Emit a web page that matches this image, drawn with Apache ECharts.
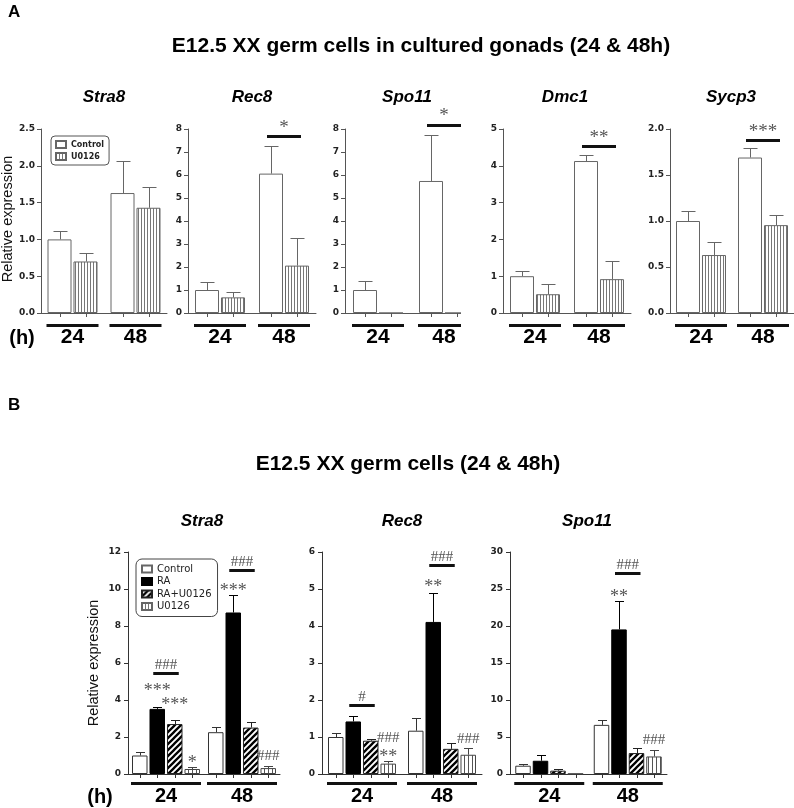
<!DOCTYPE html>
<html><head><meta charset="utf-8">
<script src="https://cdn.jsdelivr.net/npm/echarts@6/dist/echarts.min.js"></script>
<style>html,body{margin:0;padding:0;background:#fff}#c{width:794px;height:808px}</style>
</head><body><div id="c"></div>
<script>
// ================= DATA =================
const groups = ['24', '48'];

// Panel A: E12.5 XX germ cells in cultured gonads — Control vs U0126
const aGenes = ['Stra8', 'Rec8', 'Spo11', 'Dmc1', 'Sycp3'];
const aYMax = [2.5, 8, 8, 5, 2.0];
const aYInterval = [0.5, 1, 1, 1, 0.5];
const aDecimals = [1, 0, 0, 0, 1];
const aControl    = [[1.00, 1.63], [1.00, 6.06], [1.00, 5.74], [1.00, 4.13], [1.00, 1.69]];
const aControlErr = [[0.11, 0.435], [0.34, 1.19], [0.37, 2.01], [0.15, 0.17], [0.11, 0.10]];
const aU0126      = [[0.70, 1.43], [0.68, 2.06], [0, 0], [0.51, 0.92], [0.63, 0.955]];
const aU0126Err   = [[0.115, 0.28], [0.25, 1.18], [0, 0], [0.29, 0.48], [0.14, 0.115]];
// significance (between Control and U0126 of a group): y = level of the bar
const aSig = [
  [],
  [{ group: 1, from: 0, to: 1, y: 7.7, text: '*' }],
  [{ group: 1, from: 0, to: 1, y: 8.19, text: '*' }],
  [{ group: 1, from: 0, to: 1, y: 4.53, text: '**' }],
  [{ group: 1, from: 0, to: 1, y: 1.88, text: '***' }]
];

// Panel B: E12.5 XX germ cells — Control, RA, RA+U0126, U0126
const bGenes = ['Stra8', 'Rec8', 'Spo11'];
const bYMax = [12, 6, 30];
const bYInterval = [2, 1, 5];
const bControl    = [[1.00, 2.26], [1.00, 1.17], [1.12, 6.64]];
const bControlErr = [[0.17, 0.27], [0.10, 0.35], [0.27, 0.68]];
const bRA         = [[3.52, 8.73], [1.42, 4.11], [1.79, 19.54]];
const bRAErr      = [[0.09, 0.92], [0.16, 0.79], [0.81, 3.82]];
const bRAU        = [[2.70, 2.51], [0.90, 0.68], [0.45, 2.83]];
const bRAUErr     = [[0.23, 0.29], [0.05, 0.17], [0.22, 0.62]];
const bU0126      = [[0.27, 0.32], [0.28, 0.52], [0.03, 2.37]];
const bU0126Err   = [[0.09, 0.13], [0.06, 0.18], [0.00, 0.90]];
const bAnn = [
  [ { group: 0, from: 1, to: 2, y: 5.44, text: '###' },
    { group: 1, from: 1, to: 2, y: 11.01, text: '###' },
    { group: 0, bar: 1, y: 4.67, text: '***' },
    { group: 0, bar: 2, y: 3.95, text: '***' },
    { group: 0, bar: 3, y: 0.81, text: '*' },
    { group: 1, bar: 1, y: 10.08, text: '***' },
    { group: 1, bar: 3, y: 0.95, text: '###' } ],
  [ { group: 0, from: 1, to: 2, y: 1.87, text: '#' },
    { group: 1, from: 1, to: 2, y: 5.64, text: '###' },
    { group: 0, bar: 3, y: 0.97, text: '###' },
    { group: 0, bar: 3, y: 0.55, text: '**' },
    { group: 1, bar: 1, y: 5.15, text: '**' },
    { group: 1, bar: 3, y: 0.94, text: '###' } ],
  [ { group: 1, from: 1, to: 2, y: 27.2, text: '###' },
    { group: 1, bar: 1, y: 24.4, text: '**' },
    { group: 1, bar: 3, y: 4.53, text: '###' } ]
];

// ================= STYLE / LAYOUT =================
const FONT = "'Liberation Sans', Arial, sans-serif";
const TICKFONT = "'DejaVu Sans', sans-serif";
const SERIF = "'Liberation Serif', 'Times New Roman', serif";

function makePattern(kind) {
  const c = document.createElement('canvas');
  const ctx = c.getContext('2d');
  if (kind === 'vertA' || kind === 'vertB') {
    const w = kind === 'vertA' ? 3 : 4;
    c.width = w; c.height = 4;
    ctx.fillStyle = '#fff'; ctx.fillRect(0, 0, w, 4);
    ctx.fillStyle = kind === 'vertA' ? '#777' : '#555';
    ctx.fillRect(0, 0, 1, 4);
  } else {
    c.width = 6; c.height = 6;
    ctx.fillStyle = '#fff'; ctx.fillRect(0, 0, 6, 6);
    ctx.strokeStyle = '#000'; ctx.lineWidth = 2.3;
    ctx.beginPath();
    ctx.moveTo(-1, 7); ctx.lineTo(7, -1);
    ctx.moveTo(-4, 4); ctx.lineTo(4, -4);
    ctx.moveTo(2, 10); ctx.lineTo(10, 2);
    ctx.stroke();
  }
  return { image: c, repeat: 'repeat' };
}
const patVertA = makePattern('vertA');
const patVertB = makePattern('vertB');
const patDiag = makePattern('diag');

const grids = [], xAxes = [], yAxes = [], series = [];

function addPanel(cfg) {
  const gi = grids.length;
  grids.push({ left: cfg.left, top: cfg.top, width: cfg.width, height: cfg.height });
  xAxes.push({
    type: 'category', gridIndex: gi, data: groups,
    axisLine: { lineStyle: { color: cfg.axisColor, width: 1 } },
    axisTick: { show: false },
    axisLabel: { margin: cfg.labelMargin, fontFamily: FONT, fontWeight: 'bold', fontSize: cfg.groupFont, color: '#000' },
    splitLine: { show: false }
  });
  yAxes.push({
    type: 'value', gridIndex: gi, min: 0, max: cfg.yMax, interval: cfg.yInterval,
    axisLine: { show: true, lineStyle: { color: cfg.axisColor } },
    axisTick: { show: true, length: 4, lineStyle: { color: cfg.axisColor } },
    axisLabel: {
      margin: cfg.yLabelMargin, fontFamily: TICKFONT, fontWeight: 'bold', fontSize: 9, color: '#222',
      formatter: v => cfg.decimals ? v.toFixed(cfg.decimals) : String(v)
    },
    splitLine: { show: false }
  });
  const n = cfg.bars.length;
  const step = cfg.bw + cfg.gapPx;
  const offset = i => (i - (n - 1) / 2) * step;
  cfg.bars.forEach(b => {
    series.push({
      type: 'bar', name: b.name, xAxisIndex: gi, yAxisIndex: gi, data: b.vals,
      barWidth: cfg.bw, barGap: (cfg.gapPx / cfg.bw * 100).toFixed(2) + '%',
      itemStyle: { color: b.color, borderColor: b.border, borderWidth: 1 },
      emphasis: { disabled: true }, silent: true
    });
  });
  cfg.bars.forEach((b, i) => {
    series.push({
      type: 'custom', name: 'err', xAxisIndex: gi, yAxisIndex: gi, silent: true, clip: false, z: 3,
      data: groups.map((g, ci) => [ci, b.vals[ci], b.vals[ci] + b.errs[ci]]),
      renderItem: (params, api) => {
        const v = api.value(1), t = api.value(2);
        if (!(t - v > 0)) return null;
        const base = api.coord([api.value(0), v]);
        const top = api.coord([api.value(0), t]);
        const x = Math.round(base[0] + offset(i)) + 0.5;
        const yt = Math.round(top[1]) + 0.5;
        return { type: 'group', children: [
          { type: 'line', shape: { x1: x, y1: base[1], x2: x, y2: yt }, style: { stroke: b.errColor, lineWidth: 1 } },
          { type: 'line', shape: { x1: x - cfg.capW / 2, y1: yt, x2: x + cfg.capW / 2, y2: yt }, style: { stroke: b.errColor, lineWidth: 1 } }
        ] };
      }
    });
  });
  // ticks under each bar and the group underline
  series.push({
    type: 'custom', name: 'decor', xAxisIndex: gi, yAxisIndex: gi, silent: true, clip: false, z: 3,
    data: groups.map((g, ci) => [ci, 0]),
    renderItem: (params, api) => {
      const p = api.coord([api.value(0), 0]);
      const children = [];
      for (let i = 0; i < n; i++) {
        const x = Math.round(p[0] + offset(i)) + 0.5;
        children.push({ type: 'line', shape: { x1: x, y1: p[1], x2: x, y2: p[1] + cfg.tickLen }, style: { stroke: cfg.axisColor, lineWidth: 1 } });
      }
      const half = (n * cfg.bw + (n - 1) * cfg.gapPx) / 2 + 1;
      children.push({ type: 'rect', shape: { x: p[0] - half, y: Math.round(p[1]) + cfg.groupLineOffset, width: 2 * half, height: 3 }, style: { fill: '#111' } });
      return { type: 'group', children };
    }
  });
  if (cfg.ann && cfg.ann.length) {
    series.push({
      type: 'custom', name: 'ann', xAxisIndex: gi, yAxisIndex: gi, silent: true, clip: false, z: 4,
      data: cfg.ann.map(a => [a.group, a.y]),
      renderItem: (params, api) => {
        const a = cfg.ann[params.dataIndex];
        const p = api.coord([api.value(0), api.value(1)]);
        const star = a.text.indexOf('*') >= 0;
        const font = (star ? cfg.starSize : cfg.hashSize) + 'px ' + SERIF;
        const drop = star ? cfg.starSize * 0.22 : 0;
        const children = [];
        if (a.from !== undefined) {
          const x1 = p[0] + offset(a.from) - 4, x2 = p[0] + offset(a.to) + 4;
          children.push({ type: 'rect', shape: { x: x1, y: Math.round(p[1]) - 1, width: x2 - x1, height: 3 }, style: { fill: '#111' } });
          children.push({ type: 'text', style: { text: a.text, x: (x1 + x2) / 2, y: p[1] - cfg.annLift + drop, textAlign: 'center', textVerticalAlign: 'middle', font, fill: '#555' } });
        } else {
          children.push({ type: 'text', style: { text: a.text, x: p[0] + offset(a.bar), y: p[1] + drop, textAlign: 'center', textVerticalAlign: 'middle', font, fill: '#555' } });
        }
        return { type: 'group', children };
      }
    });
  }
}

// Panel A layout
const aLeft = [41, 188, 345, 503, 670];
const aWidth = [126, 128, 132, 128, 124];
aGenes.forEach((g, k) => {
  addPanel({
    left: aLeft[k], top: 129, width: aWidth[k], height: 184,
    yMax: aYMax[k], yInterval: aYInterval[k], decimals: aDecimals[k],
    bw: 24, gapPx: 2, capW: 14, axisColor: '#555', tickLen: 4, groupLineOffset: 11,
    labelMargin: 14, groupFont: 21, yLabelMargin: 6,
    starSize: 19, hashSize: 15, annLift: 12.5,
    bars: [
      { name: 'Control', vals: aControl[k], errs: aControlErr[k], color: '#fff', border: '#666', errColor: '#666' },
      { name: 'U0126', vals: aU0126[k], errs: aU0126Err[k], color: patVertA, border: '#666', errColor: '#666' }
    ],
    ann: aSig[k]
  });
});

// Panel B layout
const bLeft = [128, 322, 510];
const bWidth = [152, 160, 157];
bGenes.forEach((g, k) => {
  addPanel({
    left: bLeft[k], top: 552, width: bWidth[k], height: 222,
    yMax: bYMax[k], yInterval: bYInterval[k], decimals: 0,
    bw: 15.5, gapPx: 2, capW: 9, axisColor: '#333', tickLen: 4, groupLineOffset: 8,
    labelMargin: 12, groupFont: 20, yLabelMargin: 7,
    starSize: 18, hashSize: 15, annLift: 8,
    bars: [
      { name: 'Control', vals: bControl[k], errs: bControlErr[k], color: '#fff', border: '#333', errColor: '#333' },
      { name: 'RA', vals: bRA[k], errs: bRAErr[k], color: '#000', border: '#000', errColor: '#000' },
      { name: 'RA+U0126', vals: bRAU[k], errs: bRAUErr[k], color: patDiag, border: '#222', errColor: '#222' },
      { name: 'U0126', vals: bU0126[k], errs: bU0126Err[k], color: patVertB, border: '#444', errColor: '#444' }
    ],
    ann: bAnn[k]
  });
});

function txt(x, y, text, font, opts) {
  opts = opts || {};
  return {
    type: 'text', x, y, rotation: opts.rotation || 0, z: 50,
    style: { text, font, fill: opts.fill || '#000', textAlign: opts.align || 'center', textVerticalAlign: 'middle' }
  };
}
const aTitleX = [104, 252, 407, 565, 731];
const bTitleX = [202, 402, 587];
const graphics = [
  // clip the right end of the A/Spo11 axis as in the original figure
  { type: 'rect', x: 461, y: 108, z: 40, shape: { x: 0, y: 0, width: 24, height: 235 }, style: { fill: '#fff' } },
  txt(8, 12, 'A', 'bold 17px ' + FONT, { align: 'left' }),
  txt(421, 46, 'E12.5 XX germ cells in cultured gonads (24 & 48h)', 'bold 21px ' + FONT),
  txt(8, 405, 'B', 'bold 17px ' + FONT, { align: 'left' }),
  txt(408, 464, 'E12.5 XX germ cells (24 & 48h)', 'bold 21px ' + FONT),
  txt(22, 338, '(h)', 'bold 20px ' + FONT),
  txt(100, 797, '(h)', 'bold 20px ' + FONT),
  txt(8, 219, 'Relative expression', '14.5px ' + FONT, { rotation: Math.PI / 2, fill: '#111' }),
  txt(94, 663, 'Relative expression', '14.5px ' + FONT, { rotation: Math.PI / 2, fill: '#111' })
];
aGenes.forEach((g, k) => graphics.push(txt(aTitleX[k], 97, g, 'italic bold 17px ' + FONT)));
bGenes.forEach((g, k) => graphics.push(txt(bTitleX[k], 521, g, 'italic bold 17px ' + FONT)));

const chart = echarts.init(document.getElementById('c'), null, { renderer: 'canvas', width: 794, height: 808 });
chart.setOption({
  backgroundColor: '#fff',
  animation: false,
  grid: grids,
  xAxis: xAxes,
  yAxis: yAxes,
  legend: [
    {
      data: ['Control', 'U0126'], orient: 'vertical', left: 51, top: 136,
      icon: 'rect', itemWidth: 10, itemHeight: 7, itemGap: 3,
      padding: [4, 5, 4, 4], borderColor: '#555', borderWidth: 1, borderRadius: 4,
      selectedMode: false,
      textStyle: { fontFamily: TICKFONT, fontWeight: 'bold', fontSize: 8, color: '#222' }
    },
    {
      data: ['Control', 'RA', 'RA+U0126', 'U0126'], orient: 'vertical', left: 136, top: 559,
      icon: 'rect', itemWidth: 10, itemHeight: 7, itemGap: 2.5,
      padding: [5, 6, 5, 5], borderColor: '#444', borderWidth: 1, borderRadius: 6,
      selectedMode: false,
      textStyle: { fontFamily: TICKFONT, fontSize: 10, color: '#222' }
    }
  ],
  graphic: { elements: graphics },
  series: series
});
</script>
</body></html>
